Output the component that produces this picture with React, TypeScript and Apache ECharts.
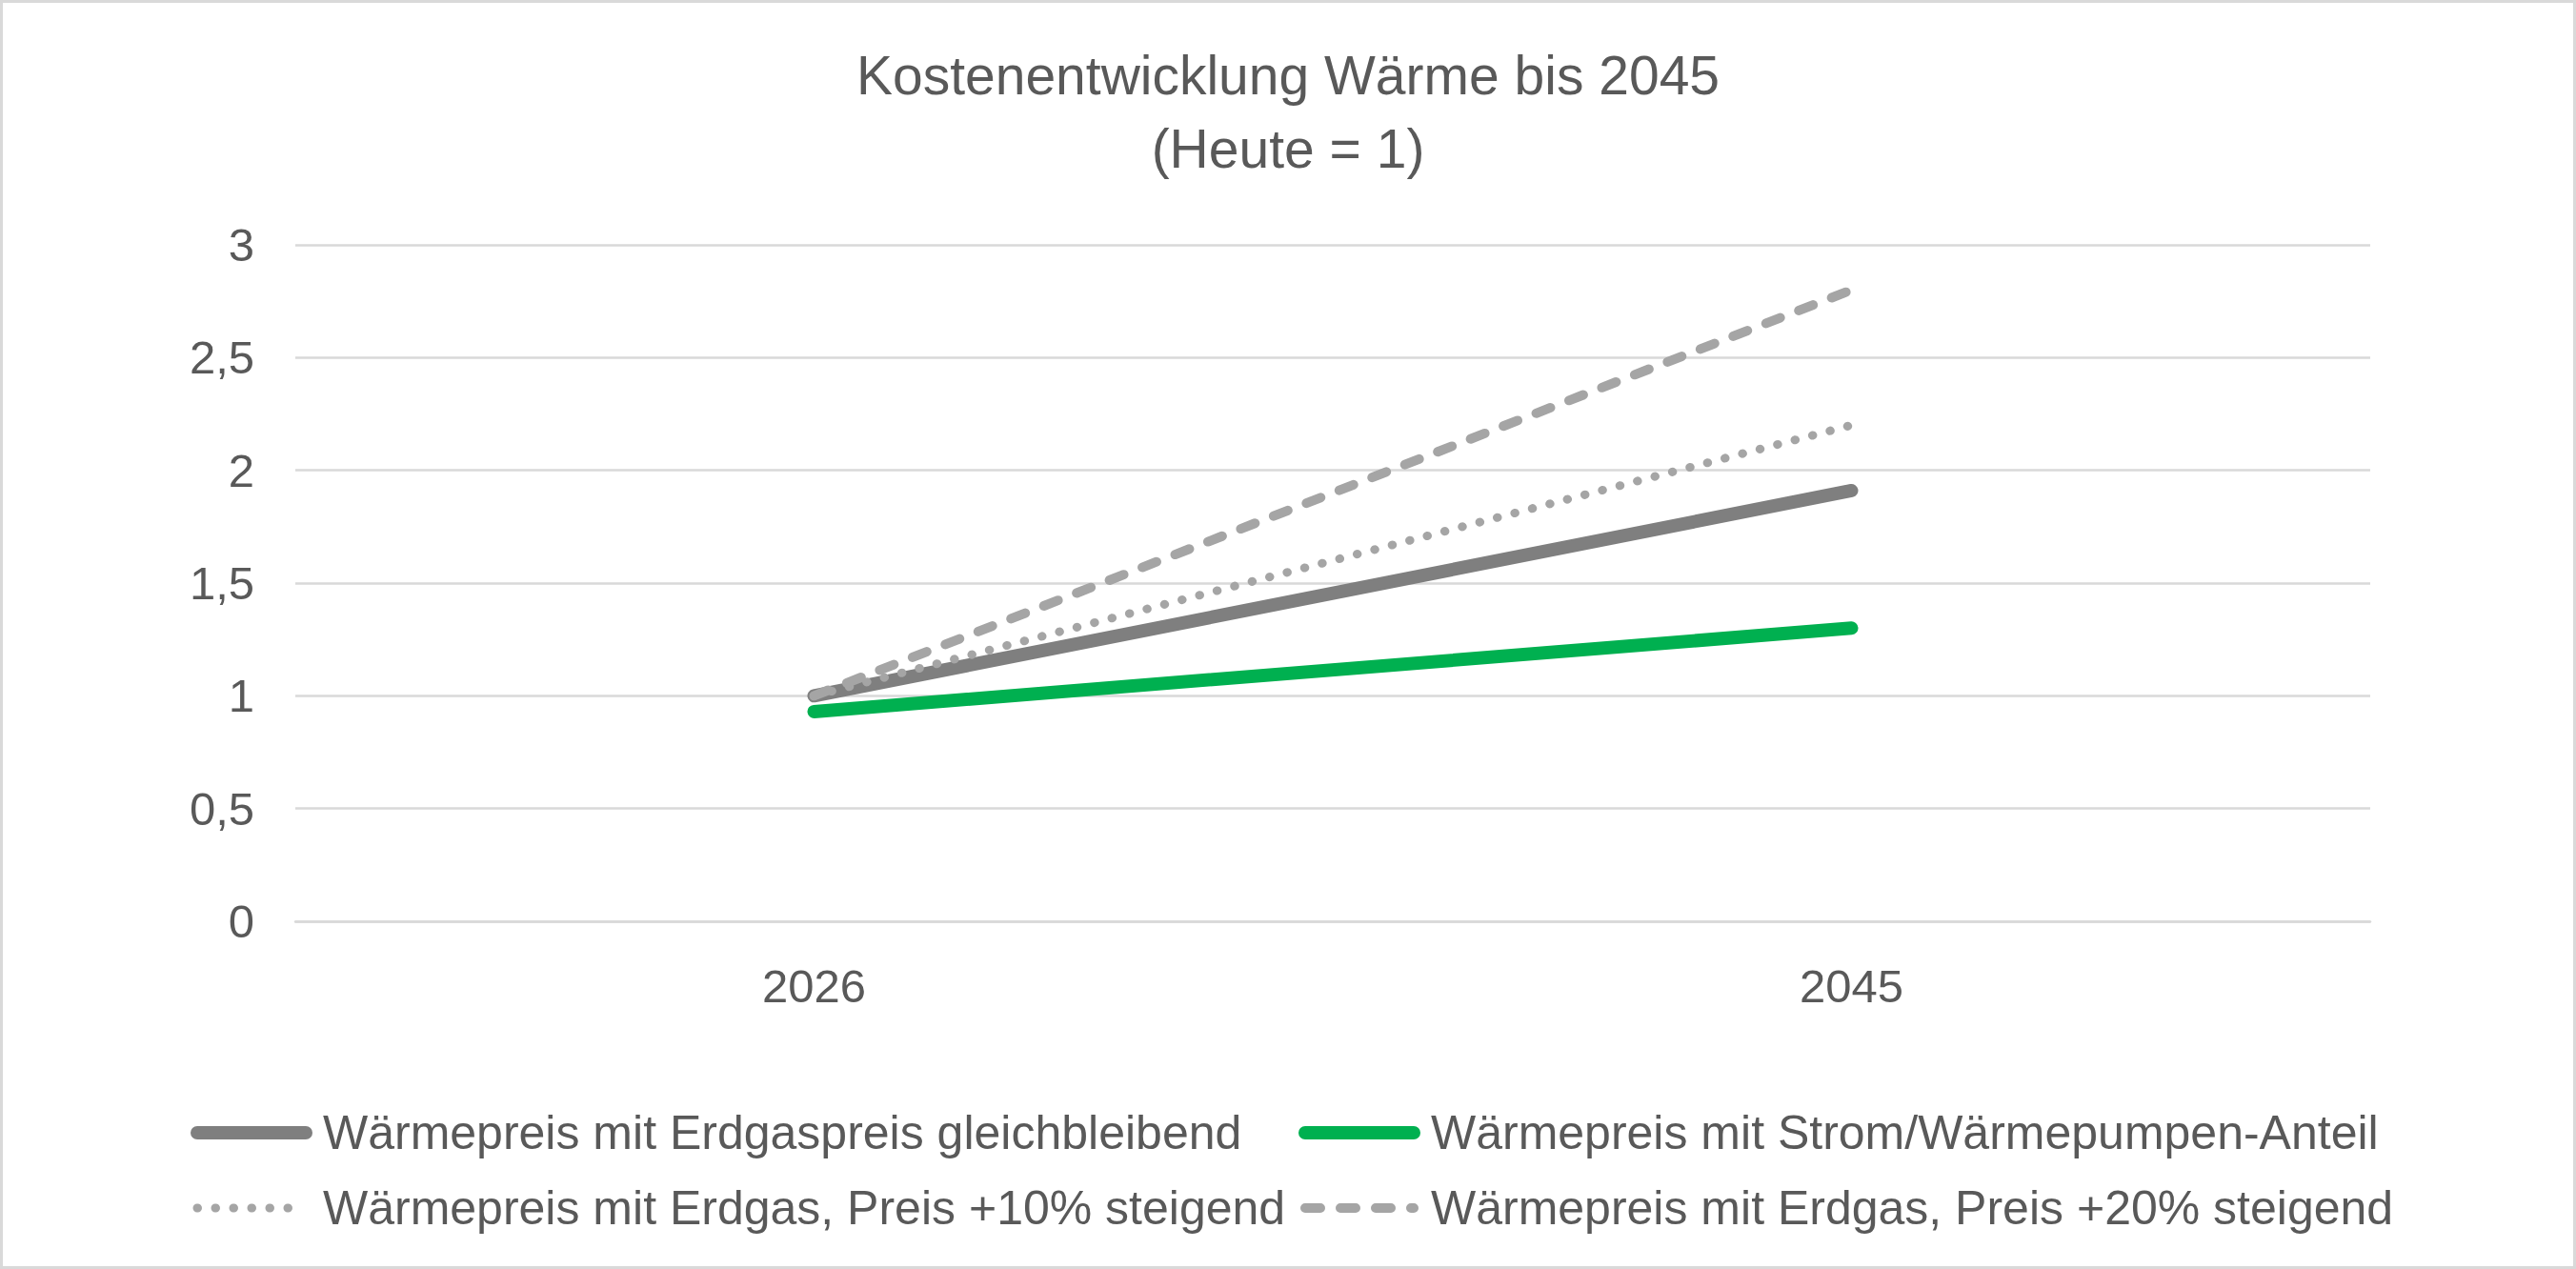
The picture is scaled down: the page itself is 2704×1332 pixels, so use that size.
import { useEffect, useRef } from 'react';
import * as echarts from 'echarts';

const years = ['2026', '2045'];
const gasConstant = [1.0, 1.91];
const heatPumpShare = [0.93, 1.3];
const gasPlus10 = [1.0, 2.2];
const gasPlus20 = [1.0, 2.8];

const TEXT = '#595959';
const GRID = '#D9D9D9';
const FONT = '"Liberation Sans", Arial, sans-serif';

export default function App() {
  const ref = useRef<HTMLDivElement>(null);

  useEffect(() => {
    document.body.style.margin = '0';
    if (!ref.current) {
      return undefined;
    }

    const chart = echarts.init(ref.current, undefined, { renderer: 'svg' });
    const legendBase = {
      orient: 'vertical' as const,
      top: 1156,
      itemWidth: 114,
      itemHeight: 14,
      itemGap: 29,
      itemStyle: { opacity: 0 },
      lineStyle: { width: 'inherit' as any },
      textStyle: { color: TEXT, fontSize: 50, fontFamily: FONT, lineHeight: 50, padding: [0, 0, 0, 13] },
      selectedMode: false as const,
    };

    const option: echarts.EChartsOption = {
      animation: false,
      backgroundColor: '#fff',
      textStyle: { fontFamily: FONT },
      title: {
        text: 'Kostenentwicklung Wärme bis 2045\n(Heute = 1)',
        left: 'center',
        top: 32,
        textStyle: { color: TEXT, fontSize: 57, fontWeight: 'normal', fontFamily: FONT, lineHeight: 77 },
      },
      legend: [
        { ...legendBase, left: 192, data: ['Wärmepreis mit Erdgaspreis gleichbleibend', 'Wärmepreis mit Erdgas, Preis +10% steigend'] },
        { ...legendBase, left: 1355, data: ['Wärmepreis mit Strom/Wärmepumpen-Anteil', 'Wärmepreis mit Erdgas, Preis +20% steigend'] },
      ],
      grid: { left: 307, right: 213, top: 254, bottom: 362, containLabel: false },
      xAxis: {
        type: 'category',
        data: years,
        boundaryGap: true,
        axisLine: { lineStyle: { color: GRID, width: 2.5 } },
        axisTick: { show: false },
        axisLabel: { color: TEXT, fontSize: 49, margin: 43, fontFamily: FONT },
      },
      yAxis: {
        type: 'value',
        min: 0,
        max: 3,
        interval: 0.5,
        axisLine: { show: false },
        axisTick: { show: false },
        splitLine: { lineStyle: { color: GRID, width: 2.5 } },
        axisLabel: {
          color: TEXT,
          fontSize: 49,
          margin: 43,
          fontFamily: FONT,
          formatter: (v: number) => String(v).replace('.', ','),
        },
      },
      series: [
        {
          name: 'Wärmepreis mit Erdgaspreis gleichbleibend',
          type: 'line',
          data: gasConstant,
          symbol: 'none',
          z: 3,
          lineStyle: { color: '#7F7F7F', width: 14, cap: 'round' },
          itemStyle: { color: '#7F7F7F' },
        },
        {
          name: 'Wärmepreis mit Strom/Wärmepumpen-Anteil',
          type: 'line',
          data: heatPumpShare,
          symbol: 'none',
          z: 3,
          lineStyle: { color: '#00B050', width: 14, cap: 'round' },
          itemStyle: { color: '#00B050' },
        },
        {
          name: 'Wärmepreis mit Erdgas, Preis +10% steigend',
          type: 'line',
          data: gasPlus10,
          symbol: 'none',
          z: 4,
          lineStyle: { color: '#A5A5A5', width: 9, cap: 'round', type: [0.5, 18.5] },
          itemStyle: { color: '#A5A5A5' },
        },
        {
          name: 'Wärmepreis mit Erdgas, Preis +20% steigend',
          type: 'line',
          data: gasPlus20,
          symbol: 'none',
          z: 4,
          lineStyle: { color: '#A5A5A5', width: 10, cap: 'round', type: [16, 21] },
          itemStyle: { color: '#A5A5A5' },
        },
      ],
    };

    chart.setOption(option);
    const resize = () => chart.resize();
    window.addEventListener('resize', resize);

    return () => {
      window.removeEventListener('resize', resize);
      chart.dispose();
    };
  }, []);

  return (
    <div style={{ width: 2704, height: 1332, boxSizing: 'border-box', border: '3px solid #D9D9D9', background: '#fff' }}>
      <div ref={ref} style={{ width: 2698, height: 1326 }} />
    </div>
  );
}
